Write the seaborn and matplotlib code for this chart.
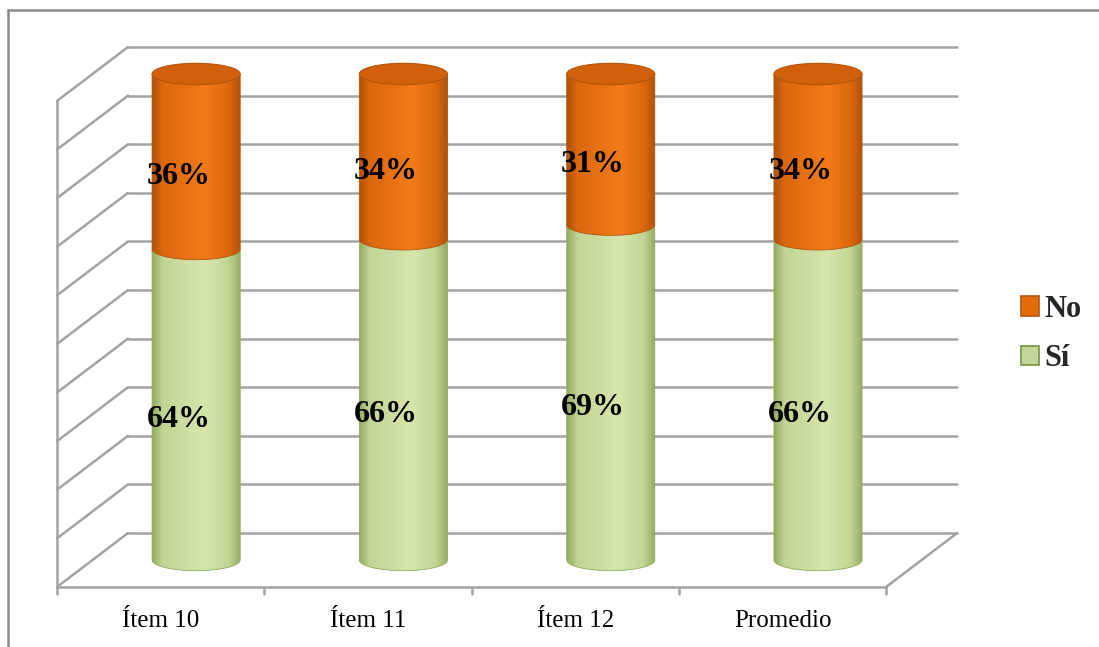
import numpy as np
import matplotlib
matplotlib.use("Agg")
import matplotlib.pyplot as plt
import seaborn as sns
from matplotlib.patches import Ellipse, Patch, PathPatch
from matplotlib.path import Path
from matplotlib.lines import Line2D
import matplotlib.colors as mcolors

# ---- data -------------------------------------------------------------
categorias = ["Ítem 10", "Ítem 11", "Ítem 12", "Promedio"]
si = [64, 66, 69, 66]
no = [36, 34, 31, 34]
series = ["No", "Sí"]
y_ticks = list(range(0, 101, 10))

# ---- style ------------------------------------------------------------
sns.set_theme(style="white")
plt.rcParams["font.family"] = ["Liberation Serif", "DejaVu Serif"]

ORANGE = {"dark": "#B0520B", "mid": "#DC680D", "hi": "#F27B18", "cap": "#D0600C", "cap_edge": "#B5540A"}
GREEN = {"dark": "#94AA5F", "mid": "#C1D595", "hi": "#D5E6AB"}
GRID = "#a3a3a3"

fig = plt.figure(figsize=(10.99, 6.47), dpi=100)
ax = fig.add_axes([0, 0, 1, 1])

# depth of the 3-D box (in category units / percent units)
DX, DY = 0.3425, 11.1
BAR_W = 0.425
RY = 2.2  # half-height of the cylinder ellipses (percent units)

# stacked bars through seaborn; their geometry drives the cylinders
total = [a + b for a, b in zip(si, no)]
sns.barplot(x=categorias, y=total, color=ORANGE["mid"], width=BAR_W, ax=ax)
sns.barplot(x=categorias, y=si, color=GREEN["mid"], width=BAR_W, ax=ax)
n = len(categorias)
tot_bars = ax.patches[:n]
si_bars = ax.patches[n:2 * n]
geom = []
for pt, ps in zip(tot_bars, si_bars):
    geom.append((pt.get_x() + pt.get_width() / 2, pt.get_width(), ps.get_height(), pt.get_height()))
for p in list(ax.patches):
    p.remove()

# ---- box: walls, floor, gridlines -------------------------------------
x_left, x_right = -0.5, n - 0.5
for v in y_ticks:
    ax.plot([x_left, x_left + DX], [v, v + DY], color=GRID, lw=1.8, zorder=1, solid_capstyle="round")
    ax.plot([x_left + DX, x_right + DX], [v + DY, v + DY], color=GRID, lw=1.8, zorder=1)
ax.plot([x_left, x_left], [0, y_ticks[-1]], color=GRID, lw=1.8, zorder=1)
ax.plot([x_left, x_right], [0, 0], color=GRID, lw=1.8, zorder=1)
ax.plot([x_right, x_right + DX], [0, DY], color=GRID, lw=1.8, zorder=1)
for k in range(n + 1):
    xb = x_left + k
    ax.plot([xb, xb], [0, -1.4], color=GRID, lw=1.8, zorder=1)


def profile(c, n_pts=240):
    u = np.linspace(0, 1, n_pts)
    stops = [0.0, 0.12, 0.6, 0.86, 1.0]
    cols = [c["dark"], c["mid"], c["hi"], c["mid"], c["dark"]]
    rgb = np.array([mcolors.to_rgb(k) for k in cols])
    out = np.stack([np.interp(u, stops, rgb[:, j]) for j in range(3)], axis=-1)
    return np.stack([out, out], axis=0)


def cylinder(xc, y0, y1, w, c, z):
    rx = w / 2
    th = np.linspace(np.pi, 2 * np.pi, 80)
    arc = np.column_stack([xc + rx * np.cos(th), y0 + RY * np.sin(th)])
    verts = np.vstack([[xc - rx, y1], arc, [xc + rx, y1], [xc - rx, y1]])
    codes = [Path.MOVETO] + [Path.LINETO] * (len(verts) - 2) + [Path.CLOSEPOLY]
    patch = PathPatch(Path(verts, codes), facecolor="none", edgecolor=c["dark"], lw=0.6, zorder=z + 0.1)
    ax.add_patch(patch)
    im = ax.imshow(profile(c), extent=[xc - rx, xc + rx, y0 - RY, y1], aspect="auto",
                   origin="lower", zorder=z, interpolation="bilinear")
    im.set_clip_path(patch)


ox, oy = DX * 0.5, DY * 0.5
for i, (xc, w, s, t) in enumerate(geom):
    cx = xc + ox
    cylinder(cx, oy, s + oy, w, GREEN, 3)
    cylinder(cx, s + oy, t + oy, w, ORANGE, 4)
    ax.add_patch(Ellipse((cx, t + oy), w, 2 * RY, facecolor=ORANGE["cap"],
                         edgecolor=ORANGE["cap_edge"], lw=0.8, zorder=5))

# value labels
lx, ly = DX * 0.25, DY * 0.22
for i, (xc, w, s, t) in enumerate(geom):
    ax.text(xc + lx, s / 2 + ly, f"{si[i]}%", ha="center", va="center",
            fontsize=23, fontweight="bold", color="black", zorder=10)
    ax.text(xc + lx, s + no[i] / 2 + ly, f"{no[i]}%", ha="center", va="center",
            fontsize=23, fontweight="bold", color="black", zorder=10)

# category labels
for i, cat in enumerate(categorias):
    ax.text(i, -7.0, cat, ha="center", va="center", fontsize=18, color="black")

# legend
handles = [Patch(facecolor="#E46C0A", edgecolor="#B65708", lw=1.2),
           Patch(facecolor="#C3D69B", edgecolor="#77933C", lw=1.2)]
ax.legend(handles=handles, labels=series, loc="center left",
          bbox_to_anchor=(1021 / 1099, 1 - 334 / 647), bbox_transform=fig.transFigure,
          frameon=False, prop={"weight": "bold", "size": 22},
          handlelength=0.6, handleheight=0.6, handletextpad=0.15,
          labelspacing=0.68, borderaxespad=0, borderpad=0)

ax.set_xlim(-0.775, 4.527)
ax.set_ylim(-12.35, 120.78)
ax.set_axis_off()

# outer chart frame (top and left edges)
fig.add_artist(Line2D([8 / 1099, 1], [1 - 10 / 647, 1 - 10 / 647], transform=fig.transFigure,
                      color="#8c8c8c", lw=1.8))
fig.add_artist(Line2D([8 / 1099, 8 / 1099], [0, 1 - 10 / 647], transform=fig.transFigure,
                      color="#8c8c8c", lw=1.8))

fig.savefig("out.png", dpi=100, facecolor="white")
